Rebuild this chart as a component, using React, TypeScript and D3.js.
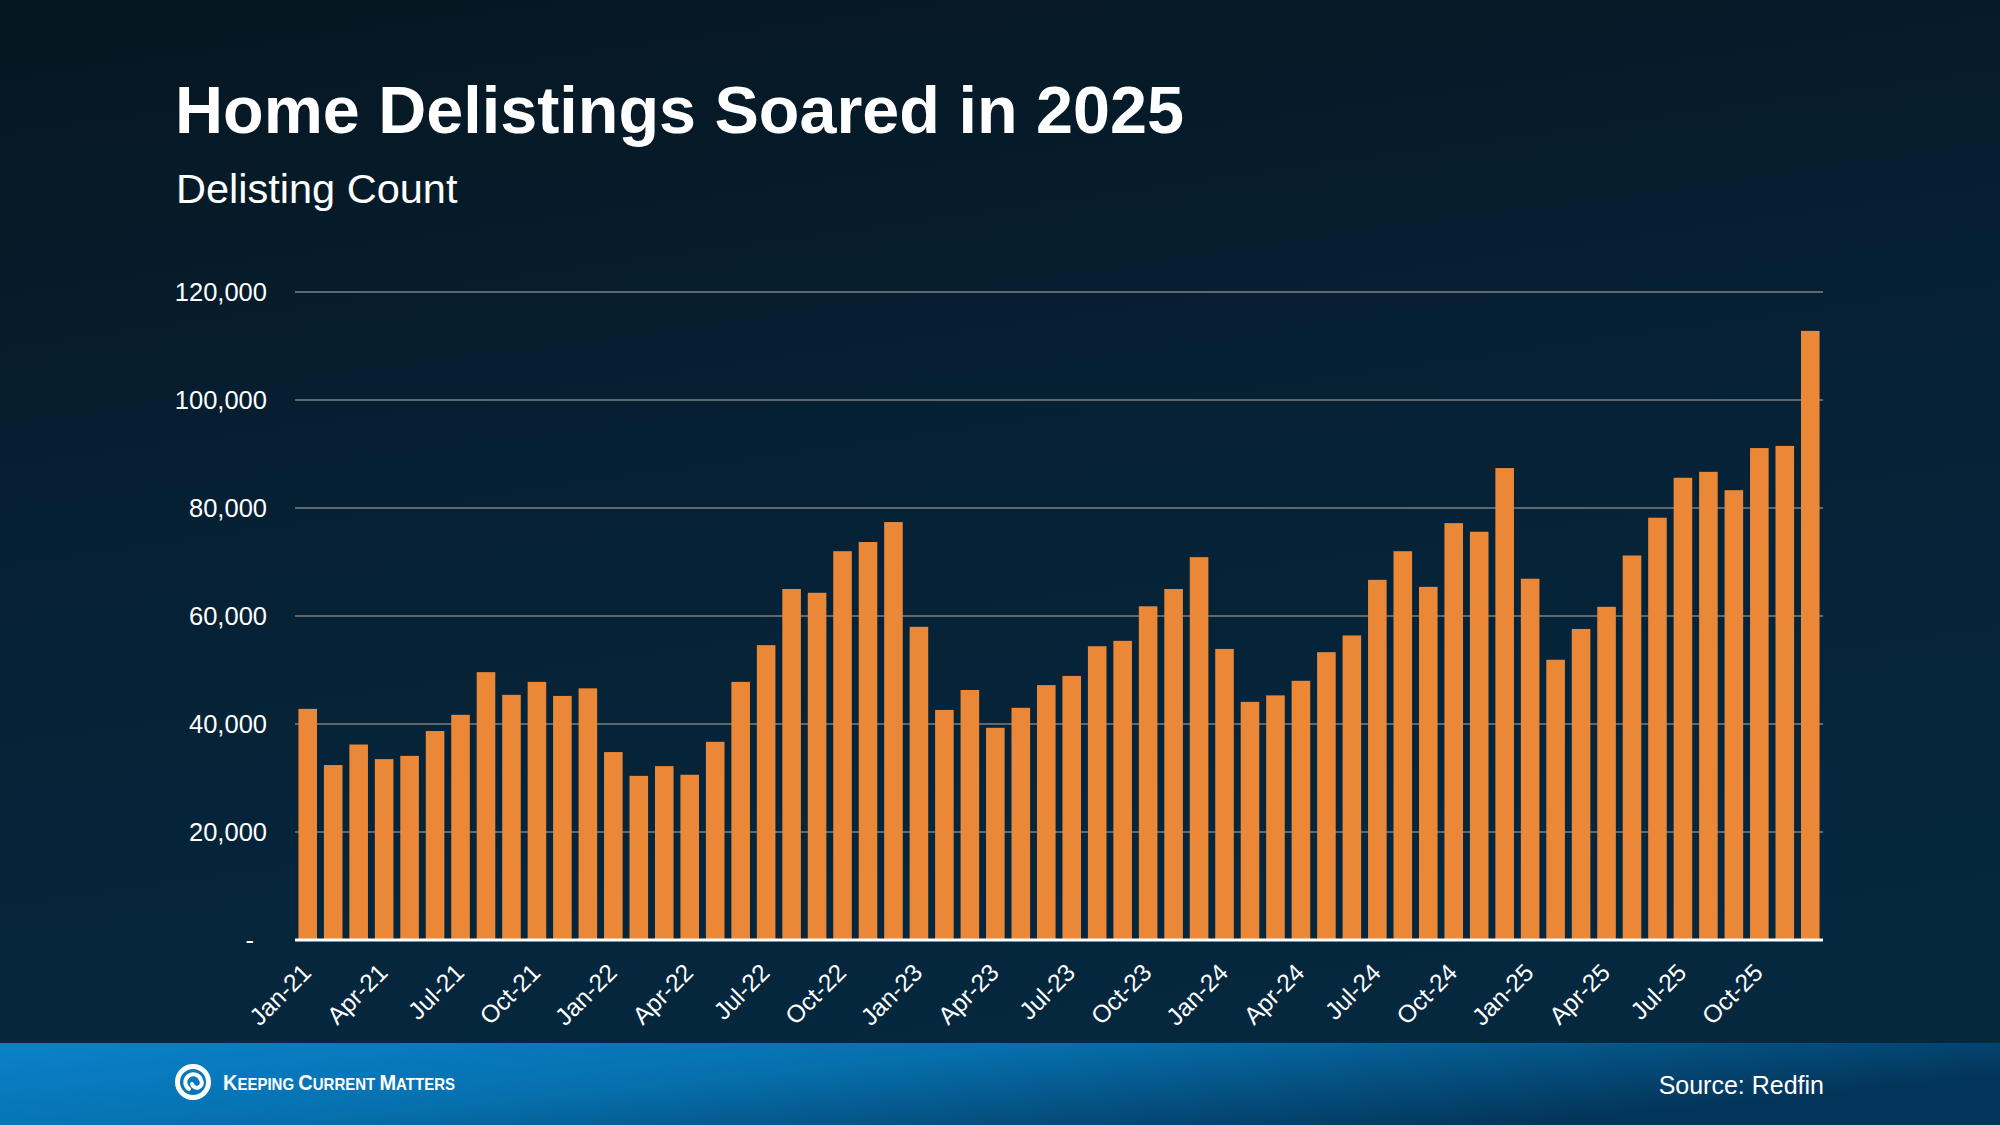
import { useEffect, useRef } from "react";
import * as d3 from "d3";

const months = [
  "Jan-21", "Feb-21", "Mar-21", "Apr-21", "May-21", "Jun-21", "Jul-21", "Aug-21", "Sep-21", "Oct-21", "Nov-21", "Dec-21",
  "Jan-22", "Feb-22", "Mar-22", "Apr-22", "May-22", "Jun-22", "Jul-22", "Aug-22", "Sep-22", "Oct-22", "Nov-22", "Dec-22",
  "Jan-23", "Feb-23", "Mar-23", "Apr-23", "May-23", "Jun-23", "Jul-23", "Aug-23", "Sep-23", "Oct-23", "Nov-23", "Dec-23",
  "Jan-24", "Feb-24", "Mar-24", "Apr-24", "May-24", "Jun-24", "Jul-24", "Aug-24", "Sep-24", "Oct-24", "Nov-24", "Dec-24",
  "Jan-25", "Feb-25", "Mar-25", "Apr-25", "May-25", "Jun-25", "Jul-25", "Aug-25", "Sep-25", "Oct-25", "Nov-25", "Dec-25",
];

const delistings = [
  42800, 32400, 36200, 33500, 34100, 38700, 41700, 49600, 45400, 47800, 45200, 46600,
  34800, 30400, 32200, 30600, 36700, 47800, 54600, 65000, 64300, 72000, 73700, 77400,
  58000, 42600, 46300, 39300, 43000, 47200, 48900, 54400, 55400, 61800, 65000, 70900,
  53900, 44100, 45300, 48000, 53300, 56400, 66700, 72000, 65400, 77200, 75600, 87400,
  66900, 51900, 57600, 61700, 71200, 78200, 85600, 86700, 83300, 91100, 91500, 112800,
];

const yTicks = [0, 20000, 40000, 60000, 80000, 100000, 120000];
const xTickLabels = months.filter((_, i) => i % 3 === 0);

const title = "Home Delistings Soared in 2025";
const subtitle = "Delisting Count";
const source = "Source: Redfin";
const brandWords: [string, string][] = [["K", "EEPING "], ["C", "URRENT "], ["M", "ATTERS"]];

const W = 2000;
const H = 1125;
const FONT = "'Liberation Sans', Arial, Helvetica, sans-serif";

export default function App() {
  const svgRef = useRef<SVGSVGElement>(null);

  useEffect(() => {
    if (!svgRef.current) return;
    const svg = d3.select(svgRef.current);
    svg.selectAll("*").remove();

    const margin = { left: 295, right: W - 1823, top: 292, bottom: H - 940 };

    const defs = svg.append("defs");
    const bg = defs.append("linearGradient").attr("id", "bg").attr("x1", 0).attr("y1", 0).attr("x2", 0.25).attr("y2", 1);
    bg.append("stop").attr("offset", "0%").attr("stop-color", "#061620");
    bg.append("stop").attr("offset", "45%").attr("stop-color", "#062033");
    bg.append("stop").attr("offset", "100%").attr("stop-color", "#05283f");

    const band = defs.append("linearGradient").attr("id", "band").attr("x1", 0).attr("y1", 0).attr("x2", 1).attr("y2", 0.4);
    band.append("stop").attr("offset", "0%").attr("stop-color", "#0a82ca");
    band.append("stop").attr("offset", "45%").attr("stop-color", "#0670ae");
    band.append("stop").attr("offset", "100%").attr("stop-color", "#03355a");

    svg.append("rect").attr("width", W).attr("height", H).attr("fill", "url(#bg)");

    // titles
    svg.append("text")
      .attr("x", 175).attr("y", 133)
      .attr("fill", "#fff").attr("font-family", FONT).attr("font-weight", 700).attr("font-size", 66.5)
      .text(title);
    svg.append("text")
      .attr("x", 176).attr("y", 203)
      .attr("fill", "#fff").attr("font-family", FONT).attr("font-size", 41.5)
      .text(subtitle);

    const x = d3.scaleBand<string>()
      .domain(months)
      .range([margin.left, W - margin.right])
      .paddingInner(0.27)
      .paddingOuter(0.135);

    const y = d3.scaleLinear()
      .domain([0, 120000])
      .range([H - margin.bottom, margin.top]);

    const fmt = d3.format(",");

    // grid lines
    svg.append("g")
      .selectAll("line")
      .data(yTicks.filter((t) => t > 0))
      .join("line")
      .attr("x1", margin.left).attr("x2", W - margin.right)
      .attr("y1", (d) => y(d)).attr("y2", (d) => y(d))
      .attr("stroke", "#5f686d").attr("stroke-width", 2);

    // y labels
    svg.append("g")
      .selectAll("text")
      .data(yTicks)
      .join("text")
      .attr("x", (d) => (d === 0 ? 254 : 267))
      .attr("y", (d) => y(d))
      .attr("dy", "0.35em")
      .attr("text-anchor", "end")
      .attr("fill", "#fff").attr("font-family", FONT).attr("font-size", 25.5)
      .text((d) => (d === 0 ? "-" : fmt(d)));

    // bars
    svg.append("g")
      .selectAll("rect")
      .data(delistings)
      .join("rect")
      .attr("x", (_, i) => x(months[i])!)
      .attr("y", (d) => y(d))
      .attr("width", x.bandwidth())
      .attr("height", (d) => y(0) - y(d))
      .attr("fill", "#eb8837");

    // baseline
    svg.append("line")
      .attr("x1", margin.left).attr("x2", W - margin.right)
      .attr("y1", y(0)).attr("y2", y(0))
      .attr("stroke", "#fff").attr("stroke-width", 3);

    // x labels, every third month, rotated
    svg.append("g")
      .selectAll("text")
      .data(xTickLabels)
      .join("text")
      .attr("transform", (d) => `translate(${x(d)! + x.bandwidth() / 2 + 5},${y(0) + 34}) rotate(-45)`)
      .attr("text-anchor", "end")
      .attr("fill", "#fff").attr("font-family", FONT).attr("font-size", 24.5)
      .text((d) => d);

    // footer band
    svg.append("rect").attr("x", 0).attr("y", 1043).attr("width", W).attr("height", H - 1043).attr("fill", "url(#band)");

    // logo swirl
    const logo = svg.append("g").attr("transform", "translate(193,1082)");
    logo.append("circle").attr("r", 15.5).attr("fill", "none").attr("stroke", "#fff").attr("stroke-width", 5);
    logo.append("path")
      .attr("d", "M -4 7 A 8 8 0 1 1 8 -2 A 5 5 0 1 1 -1 2")
      .attr("fill", "none").attr("stroke", "#fff").attr("stroke-width", 4).attr("stroke-linecap", "round");

    const brand = svg.append("text")
      .attr("x", 223).attr("y", 1090)
      .attr("fill", "#fff").attr("font-family", FONT).attr("font-weight", 700)
      .attr("textLength", 232).attr("lengthAdjust", "spacingAndGlyphs");
    brandWords.forEach(([big, small]) => {
      brand.append("tspan").attr("font-size", 22).text(big);
      brand.append("tspan").attr("font-size", 16.5).text(small);
    });

    svg.append("text")
      .attr("x", 1824).attr("y", 1094)
      .attr("text-anchor", "end")
      .attr("fill", "#fff").attr("font-family", FONT).attr("font-size", 25)
      .text(source);
  }, []);

  return (
    <>
      <style>{`body{margin:0;}`}</style>
      <svg ref={svgRef} width={W} height={H} style={{ display: "block" }} />
    </>
  );
}
